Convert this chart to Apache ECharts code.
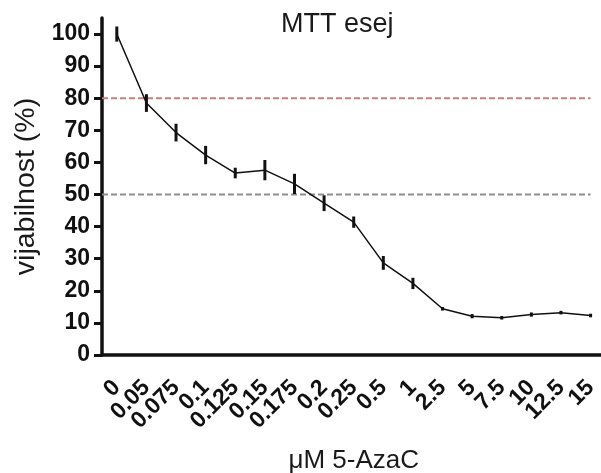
<!DOCTYPE html>
<html>
<head>
<meta charset="utf-8">
<script src="https://cdn.jsdelivr.net/npm/echarts@6/dist/echarts.min.js"></script>
<style>
html,body{margin:0;padding:0;background:#fff;}
#c{width:601px;height:473px;}
</style>
</head>
<body>
<div id="c"></div>
<script>
// ---- data ----
const categories = ['0','0.05','0.075','0.1','0.125','0.15','0.175','0.2','0.25','0.5','1','2.5','5','7.5','10','12.5','15'];
const means = [100, 78.5, 69.3, 62.3, 56.7, 57.6, 53.3, 47.3, 41.4, 28.7, 22.3, 14.4, 12.1, 11.6, 12.6, 13.2, 12.3];
const errors = [2.2, 2.6, 2.6, 2.7, 1.5, 3.0, 3.0, 2.3, 1.6, 2.0, 1.6, 0.4, 0.5, 0.4, 0.5, 0.4, 0.4];
const yTicks = [0, 10, 20, 30, 40, 50, 60, 70, 80, 90, 100];
const thresholds = [80, 50];
const titleText = 'MTT esej';
const yName = 'vijabilnost (%)';
const xName = 'μM 5-AzaC';

const FONT = "'Liberation Sans', Arial, Helvetica, sans-serif";
const chart = echarts.init(document.getElementById('c'), null, {renderer: 'canvas'});

const lastIdx = categories.length - 1;
const refColors = ['#c97f7c', '#8e8e8c'];

const refSeries = thresholds.map((t, k) => ({
  type: 'line',
  xAxisIndex: 1,
  yAxisIndex: 0,
  data: [[-0.5, t], [lastIdx, t]],
  symbol: 'none',
  silent: true,
  z: 1,
  lineStyle: {color: refColors[k], width: 1.8, type: [6, 3]}
}));

chart.setOption({
  animation: false,
  backgroundColor: '#ffffff',
  title: {
    text: titleText,
    left: 276,
    top: 6,
    textStyle: {fontFamily: FONT, fontSize: 27, fontWeight: 'normal', color: '#1a1a1a'}
  },
  grid: {left: 102, right: -4.4, top: 18, bottom: 118, containLabel: false, outerBoundsMode: 'none'},
  xAxis: [{
    type: 'category',
    data: categories,
    boundaryGap: true,
    name: xName,
    nameLocation: 'middle',
    nameGap: 93,
    nameTextStyle: {fontFamily: FONT, fontSize: 26, color: '#1a1a1a', verticalAlign: 'top'},
    axisLine: {onZero: false, lineStyle: {color: '#111', width: 3.5}},
    axisTick: {alignWithLabel: true, length: 10, lineStyle: {color: '#111', width: 3}},
    axisLabel: {interval: 0, rotate: 45, margin: 29, fontFamily: FONT, fontSize: 23, fontWeight: 'bold', color: '#111'},
    splitLine: {show: false}
  }, {
    type: 'value',
    min: -0.5,
    max: lastIdx + 0.5,
    show: false
  }],
  yAxis: {
    type: 'value',
    min: 0,
    max: 105,
    name: yName,
    nameLocation: 'middle',
    nameRotate: 90,
    nameGap: 60,
    nameTextStyle: {fontFamily: FONT, fontSize: 28.5, color: '#1a1a1a'},
    axisLine: {show: true, onZero: false, lineStyle: {color: '#111', width: 3.5}},
    axisTick: {show: true, length: 8, customValues: yTicks, lineStyle: {color: '#111', width: 3}},
    axisLabel: {margin: 12, customValues: yTicks, fontFamily: FONT, fontSize: 23, fontWeight: 'bold', color: '#111'},
    splitLine: {show: false}
  },
  series: [
    ...refSeries,
    {
      type: 'line',
      data: means,
      symbol: 'none',
      z: 3,
      lineStyle: {color: '#111', width: 1.5}
    },
    {
      type: 'custom',
      z: 4,
      data: means.map((m, i) => [i, m, errors[i]]),
      renderItem: function (params, api) {
        const i = api.value(0), m = api.value(1), e = api.value(2);
        const p1 = api.coord([i, m + e]);
        const p2 = api.coord([i, m - e]);
        return {
          type: 'line',
          shape: {x1: p1[0], y1: p1[1] - 0.5, x2: p2[0], y2: p2[1] + 0.5},
          style: {stroke: '#111', lineWidth: 3}
        };
      }
    }
  ]
});
</script>
</body>
</html>
